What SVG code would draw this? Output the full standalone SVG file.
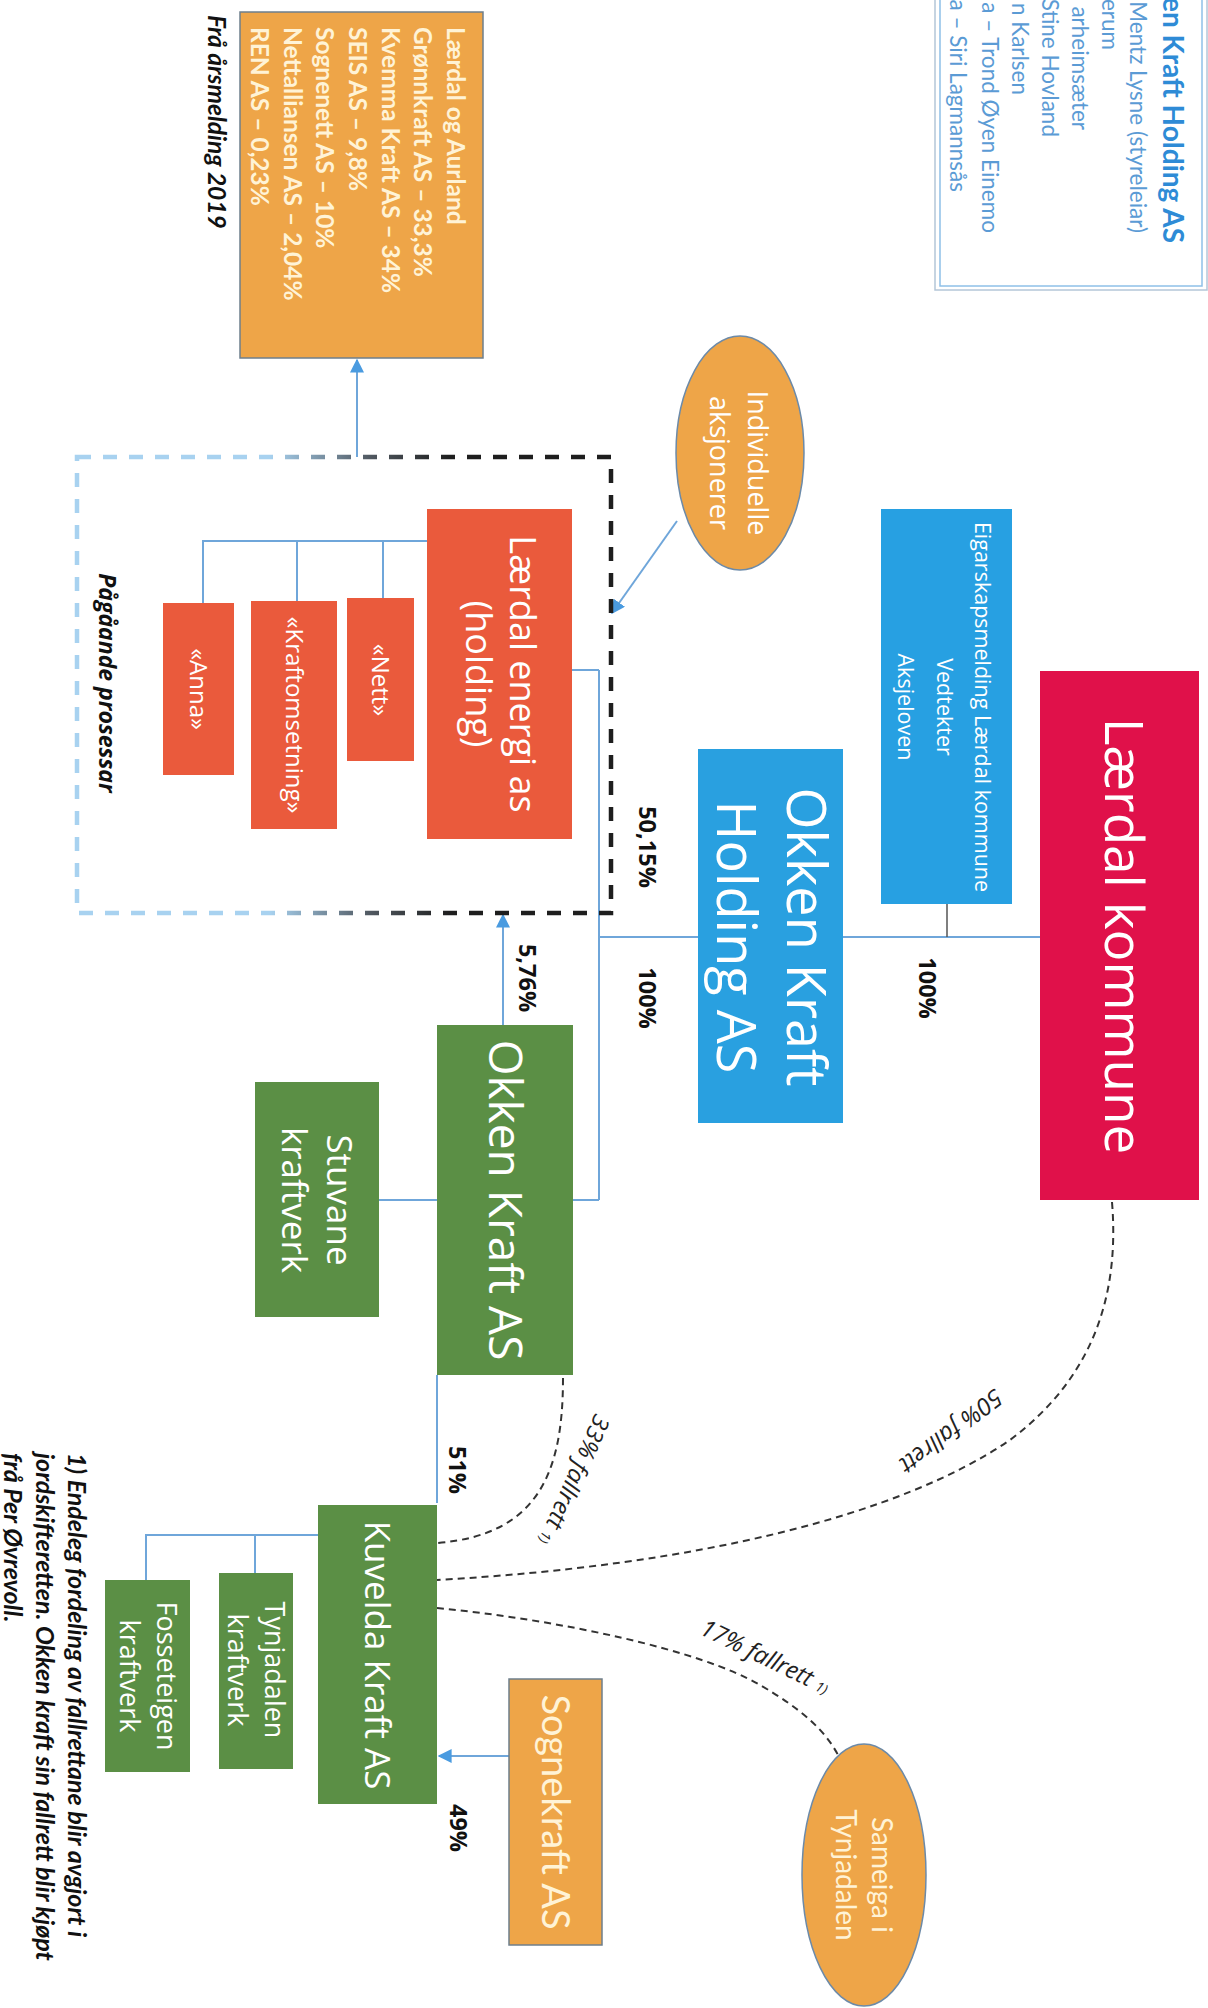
<svg xmlns="http://www.w3.org/2000/svg" width="1208" height="2008" viewBox="0 0 1208 2008">
<defs>
<style>
.t{font-family:"Open Sans","Noto Sans",sans-serif;fill:#fff}
.c{font-family:Lato,"Open Sans",sans-serif;fill:#FFF3D6}
.lbl{font-family:"Open Sans","Noto Sans",sans-serif;font-weight:700;font-size:23.5px;fill:#111}
.fl{font-family:"Open Sans","Noto Sans",sans-serif;font-style:italic;font-size:24px;fill:#222}
.conn{fill:none;stroke:#6FA6DA;stroke-width:2}
.dash{fill:none;stroke:#333;stroke-width:2;stroke-dasharray:7 5}
.bi{font-family:Lato,"Open Sans",sans-serif;font-weight:700;font-style:italic;fill:#111}
.leg{font-family:Lato,"Open Sans",sans-serif;font-size:22.5px;fill:#5B9BD5}
</style>
<marker id="arr" markerUnits="userSpaceOnUse" markerWidth="14" markerHeight="14" viewBox="0 0 10 10" refX="9" refY="5" orient="auto"><path d="M0,0 L10,5 L0,10 z" fill="#4A9BE0"/></marker>
<linearGradient id="gbox" gradientUnits="userSpaceOnUse" x1="77" y1="0" x2="611" y2="0">
<stop offset="0" stop-color="#A8D2F0"/><stop offset="0.36" stop-color="#A8D2F0"/><stop offset="0.55" stop-color="#505860"/><stop offset="0.7" stop-color="#1E1E1E"/><stop offset="1" stop-color="#1E1E1E"/>
</linearGradient>
</defs>
<rect width="1208" height="2008" fill="#fff"/>

<g id="legend">
<rect x="935" y="-5" width="272" height="295" fill="#fff" stroke="#B4C6D8" stroke-width="1.5"/>
<rect x="940" y="-5" width="262" height="291" fill="none" stroke="#8EC0E8" stroke-width="1.5"/>
<text transform="translate(1163,243) rotate(90)" text-anchor="end" style="font-family:Lato,'Open Sans',sans-serif;font-weight:700;font-size:28px;fill:#2E8BD6">en Kraft Holding AS</text>
<text class="leg" transform="translate(1130,233) rotate(90)" text-anchor="end">Mentz Lysne (styreleiar)</text>
<text class="leg" transform="translate(1102,50) rotate(90)" text-anchor="end">erum</text>
<text class="leg" transform="translate(1072,130) rotate(90)" text-anchor="end">arheimsæter</text>
<text class="leg" transform="translate(1042,137) rotate(90)" text-anchor="end">Stine Hovland</text>
<text class="leg" transform="translate(1012,95) rotate(90)" text-anchor="end">n Karlsen</text>
<text class="leg" transform="translate(982,233) rotate(90)" text-anchor="end">a – Trond Øyen Einemo</text>
<text class="leg" transform="translate(950,192) rotate(90)" text-anchor="end">a – Siri Lagmannsås</text>
</g>

<g id="connectors">
<path class="conn" d="M1040,937 H843 M698,937 H599 M599,670 V1200 M599,670 H572 M599,1200 H573"/>
<path d="M947,904 V937" fill="none" stroke="#555" stroke-width="1.5"/>
<path class="conn" d="M379,1200 H437"/>
<path class="conn" d="M437,1375 V1503"/>
<path class="conn" d="M427,541 H203 V603 M383,541 V598 M297,541 V601"/>
<path class="conn" d="M318,1535 H146 V1580 M255,1535 V1573"/>
<path class="conn" d="M357,457 V360" marker-end="url(#arr)"/>
<path class="conn" d="M503,1025 V915" marker-end="url(#arr)"/>
<path class="conn" d="M677,521 L612,613" marker-end="url(#arr)"/>
<path class="conn" d="M509,1756 H439" marker-end="url(#arr)"/>
<path class="dash" d="M1112,1202 C1120,1300 1090,1380 1010,1440 C900,1515 700,1565 437,1580"/>
<path class="dash" d="M563,1378 C563,1470 540,1535 437,1543"/>
<path class="dash" d="M437,1608 C560,1620 700,1650 760,1685 C800,1708 825,1730 838,1755"/>
</g>

<g id="process-box">
<rect x="77" y="457" width="534" height="456" fill="none" stroke="url(#gbox)" stroke-width="4.5" stroke-dasharray="14 12"/>
<text transform="translate(99,683) rotate(90)" text-anchor="middle" style="font-family:'Open Sans',sans-serif;font-weight:700;font-style:italic;font-size:23px;fill:#111">Pågåande prosessar</text>
</g>

<g id="laerdal-kommune">
<rect x="1040" y="671" width="159" height="529" fill="#E0114A"/>
<text class="t" transform="translate(1105,936) rotate(90)" text-anchor="middle" font-size="53">Lærdal kommune</text>
</g>

<g id="eigarskap">
<rect x="881" y="509" width="131" height="395" fill="#27A0E2"/>
<text class="t" transform="translate(975,707) rotate(90)" text-anchor="middle" font-size="21.5"><tspan x="0" y="0">Eigarskapsmelding Lærdal kommune</tspan><tspan x="0" dy="38.5">Vedtekter</tspan><tspan x="0" dy="38.5">Aksjeloven</tspan></text>
</g>

<g id="okken-kraft-holding">
<rect x="698" y="749" width="145" height="374" fill="#29A0E0"/>
<text class="t" transform="translate(787,937) rotate(90)" text-anchor="middle" font-size="54"><tspan x="0" y="0">Okken Kraft</tspan><tspan x="0" dy="70">Holding AS</tspan></text>
</g>

<g id="individuelle">
<ellipse cx="740" cy="453" rx="64" ry="117" fill="#EEA548" stroke="#6C8AA8" stroke-width="1.5"/>
<text class="t" transform="translate(748,463) rotate(90)" text-anchor="middle" font-size="27" fill="#FFF3D6"><tspan x="0" y="0">Individuelle</tspan><tspan x="0" dy="38">aksjonerer</tspan></text>
</g>

<g id="aarsmelding">
<rect x="240" y="12" width="243" height="346" fill="#EEA548" stroke="#6E7F8C" stroke-width="1.5"/>
<text class="c" transform="translate(447,27) rotate(90)" font-size="24.5" font-weight="700"><tspan x="0" y="0">Lærdal og Aurland</tspan><tspan x="0" dy="32.7">Grønnkraft AS – 33,3%</tspan><tspan x="0" dy="32.7">Kvemma Kraft AS – 34%</tspan><tspan x="0" dy="32.7">SEIS AS – 9,8%</tspan><tspan x="0" dy="32.7">Sognenett AS – 10%</tspan><tspan x="0" dy="32.7">Nettalliansen AS – 2,04%</tspan><tspan x="0" dy="32.7">REN AS – 0,23%</tspan></text>
<text class="bi" transform="translate(208,15) rotate(90)" font-size="24.5">Frå årsmelding 2019</text>
</g>

<g id="laerdal-energi">
<rect x="427" y="509" width="145" height="330" fill="#EA5A3C"/>
<text class="t" transform="translate(510,674) rotate(90)" text-anchor="middle" font-size="36"><tspan x="0" y="0">Lærdal energi as</tspan><tspan x="0" dy="44">(holding)</tspan></text>
</g>
<g id="nett">
<rect x="347" y="598" width="67" height="163" fill="#EA5A3C"/>
<text class="t" transform="translate(372,680) rotate(90)" text-anchor="middle" font-size="24">«Nett»</text>
</g>
<g id="kraftomsetning">
<rect x="251" y="601" width="86" height="228" fill="#EA5A3C"/>
<text class="t" transform="translate(286,715) rotate(90)" text-anchor="middle" font-size="24">«Kraftomsetning»</text>
</g>
<g id="anna">
<rect x="163" y="603" width="71" height="172" fill="#EA5A3C"/>
<text class="t" transform="translate(190,689) rotate(90)" text-anchor="middle" font-size="24">«Anna»</text>
</g>

<g id="okken-kraft-as">
<rect x="437" y="1025" width="136" height="350" fill="#5B8F45"/>
<text class="t" transform="translate(489,1200) rotate(90)" text-anchor="middle" font-size="46">Okken Kraft AS</text>
</g>
<g id="stuvane">
<rect x="255" y="1082" width="124" height="235" fill="#5B8F45"/>
<text class="t" transform="translate(327,1200) rotate(90)" text-anchor="middle" font-size="35"><tspan x="0" y="0">Stuvane</tspan><tspan x="0" dy="45">kraftverk</tspan></text>
</g>
<g id="kuvelda">
<rect x="318" y="1505" width="119" height="299" fill="#5B8F45"/>
<text class="t" transform="translate(365,1655) rotate(90)" text-anchor="middle" font-size="35">Kuvelda Kraft AS</text>
</g>
<g id="tynjadalen">
<rect x="219" y="1573" width="74" height="196" fill="#5B8F45"/>
<text class="t" transform="translate(265,1670) rotate(90)" text-anchor="middle" font-size="27"><tspan x="0" y="0">Tynjadalen</tspan><tspan x="0" dy="37">kraftverk</tspan></text>
</g>
<g id="fosseteigen">
<rect x="105" y="1580" width="85" height="192" fill="#5B8F45"/>
<text class="t" transform="translate(157,1676) rotate(90)" text-anchor="middle" font-size="27"><tspan x="0" y="0">Fosseteigen</tspan><tspan x="0" dy="37">kraftverk</tspan></text>
</g>
<g id="sognekraft">
<rect x="509" y="1679" width="93" height="266" fill="#EEA548" stroke="#6E7F8C" stroke-width="1.5"/>
<text class="c" transform="translate(542,1812) rotate(90)" text-anchor="middle" font-size="38">Sognekraft AS</text>
</g>
<g id="sameiga">
<ellipse cx="864" cy="1875" rx="62" ry="131" fill="#EEA548" stroke="#6C8AA8" stroke-width="1.5"/>
<text class="c" transform="translate(872,1875) rotate(90)" text-anchor="middle" font-size="28"><tspan x="0" y="0">Sameiga i</tspan><tspan x="0" dy="36">Tynjadalen</tspan></text>
</g>

<g id="labels">
<text class="lbl" transform="translate(639,847) rotate(90)" text-anchor="middle">50,15%</text>
<text class="lbl" transform="translate(639,998) rotate(90)" text-anchor="middle">100%</text>
<text class="lbl" transform="translate(919,988) rotate(90)" text-anchor="middle">100%</text>
<text class="lbl" transform="translate(519,978) rotate(90)" text-anchor="middle">5,76%</text>
<text class="lbl" transform="translate(449,1470) rotate(90)" text-anchor="middle">51%</text>
<text class="lbl" transform="translate(450,1828) rotate(90)" text-anchor="middle">49%</text>
<text class="fl" transform="translate(951,1431) rotate(143)" text-anchor="middle" y="8">50% fallrett</text>
<text class="fl" transform="translate(574,1480) rotate(114)" text-anchor="middle" y="8">33% fallrett <tspan font-size="14">1)</tspan></text>
<text class="fl" transform="translate(765,1657) rotate(26)" text-anchor="middle" y="8">17% fallrett <tspan font-size="14">1)</tspan></text>
</g>

<g id="footnote">
<text class="bi" transform="translate(68,1453) rotate(90)" font-size="25"><tspan x="0" y="0">1) Endeleg fordeling av fallrettane blir avgjort i</tspan><tspan x="0" dy="32">jordskifteretten. Okken kraft sin fallrett blir kjøpt</tspan><tspan x="0" dy="32">frå Per Øvrevoll.</tspan></text>
</g>
</svg>
